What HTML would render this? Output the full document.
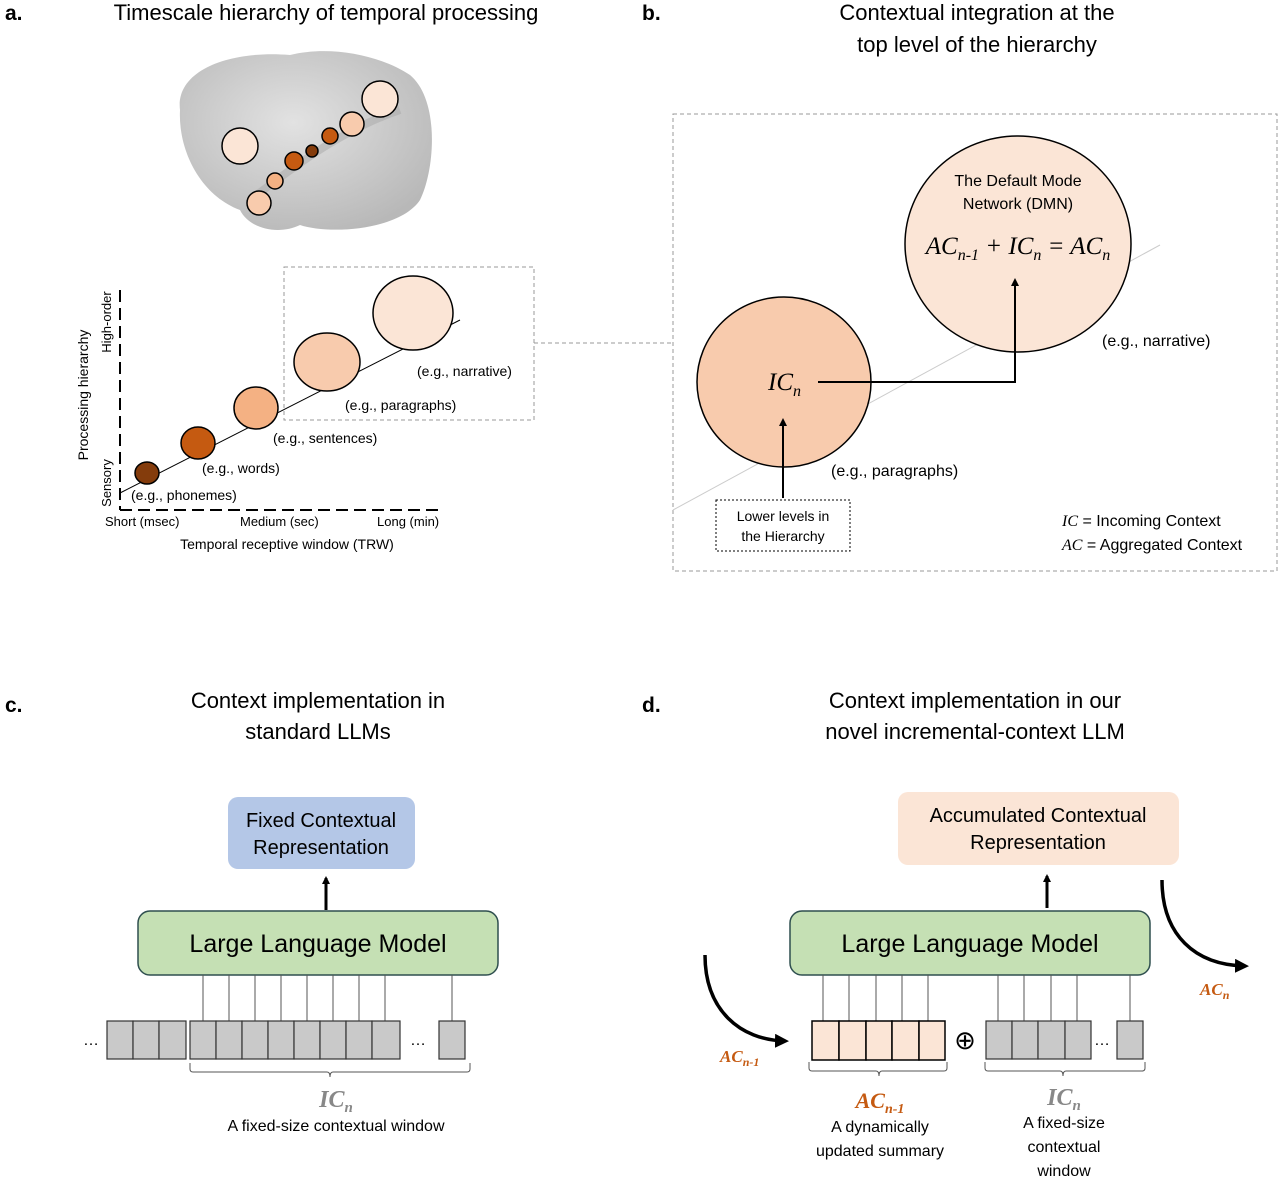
<!DOCTYPE html>
<html><head><meta charset="utf-8"><style>
html,body{margin:0;padding:0;background:#fff}
svg{display:block;font-family:"Liberation Sans",sans-serif}
.it{font-family:"Liberation Serif",serif;font-style:italic}
</style></head><body>
<svg width="1280" height="1179" viewBox="0 0 1280 1179" xmlns="http://www.w3.org/2000/svg">
<defs>
<marker id="ah" markerWidth="8" markerHeight="8" refX="6" refY="4" orient="auto" markerUnits="userSpaceOnUse"><path d="M0,0 L8,4 L0,8 Z" fill="#000"/></marker>
<marker id="ahb" markerWidth="14" markerHeight="14" refX="10" refY="7" orient="auto" markerUnits="userSpaceOnUse"><path d="M0,0 L14,7 L0,14 Z" fill="#000"/></marker>
<radialGradient id="br" cx="45%" cy="40%" r="65%"><stop offset="0" stop-color="#e2e2e2"/><stop offset="1" stop-color="#b8b8b8"/></radialGradient>
</defs>
<!-- Panel a -->
<text x="5" y="20" font-size="21" font-weight="bold">a.</text>
<text x="326" y="20" font-size="22" text-anchor="middle">Timescale hierarchy of temporal processing</text>
<path d="M180,110 C175,70 230,50 290,55 C330,45 380,55 410,75 C440,100 435,170 420,200 C400,230 330,235 300,225 C280,235 250,230 240,210 C200,195 178,150 180,110 Z" fill="url(#br)"/>
<path d="M250,200 C290,170 340,130 400,110" stroke="#a8a8a8" stroke-width="8" fill="none" opacity=".5"/>
<g stroke="#000" stroke-width="1.5">
<circle cx="240" cy="146" r="18" fill="#fbe5d6"/>
<circle cx="380" cy="99" r="18" fill="#fbe5d6"/>
<circle cx="352" cy="124" r="12" fill="#f8cbad"/>
<circle cx="330" cy="136" r="8" fill="#c55a11"/>
<circle cx="312" cy="151" r="6" fill="#843c0c"/>
<circle cx="294" cy="161" r="9" fill="#c55a11"/>
<circle cx="275" cy="181" r="8" fill="#f4b183"/>
<circle cx="259" cy="203" r="12" fill="#f8cbad"/>
</g>
<line x1="120" y1="290" x2="120" y2="510" stroke="#000" stroke-width="2" stroke-dasharray="12,6"/>
<line x1="120" y1="510" x2="440" y2="510" stroke="#000" stroke-width="2" stroke-dasharray="12,6"/>
<line x1="120" y1="493" x2="460" y2="320" stroke="#000" stroke-width="1"/>
<rect x="284" y="267" width="250" height="153" fill="none" stroke="#999" stroke-dasharray="4,3"/>
<line x1="534" y1="343" x2="673" y2="343" stroke="#999" stroke-dasharray="4,3"/>
<g stroke="#000" stroke-width="1.5">
<ellipse cx="147" cy="473" rx="12" ry="11" fill="#843c0c"/>
<ellipse cx="198" cy="443" rx="17" ry="16" fill="#c55a11"/>
<ellipse cx="256" cy="408" rx="22" ry="21" fill="#f4b183"/>
<ellipse cx="327" cy="362" rx="33" ry="29" fill="#f8cbad"/>
<ellipse cx="413" cy="313" rx="40" ry="37" fill="#fbe5d6"/>
</g>
<g font-size="14">
<text x="131" y="500">(e.g., phonemes)</text>
<text x="202" y="473">(e.g., words)</text>
<text x="273" y="443">(e.g., sentences)</text>
<text x="345" y="410">(e.g., paragraphs)</text>
<text x="417" y="376">(e.g., narrative)</text>
<text x="105" y="526" font-size="13">Short (msec)</text>
<text x="240" y="526" font-size="13">Medium (sec)</text>
<text x="377" y="526" font-size="13">Long (min)</text>
<text x="287" y="549" text-anchor="middle">Temporal receptive window (TRW)</text>
<text transform="translate(88,395) rotate(-90)" text-anchor="middle">Processing hierarchy</text>
<text transform="translate(111,322) rotate(-90)" text-anchor="middle" font-size="13">High-order</text>
<text transform="translate(111,483) rotate(-90)" text-anchor="middle" font-size="13">Sensory</text>
</g>
<!-- Panel b -->
<text x="642" y="20" font-size="21" font-weight="bold">b.</text>
<text x="977" y="20" font-size="22" text-anchor="middle">Contextual integration at the</text>
<text x="977" y="52" font-size="22" text-anchor="middle">top level of the hierarchy</text>
<rect x="673" y="114" width="604" height="457" fill="none" stroke="#999" stroke-dasharray="4,3"/>
<line x1="673" y1="510" x2="1160" y2="245" stroke="#ccc" stroke-width="1"/>
<ellipse cx="1018" cy="244" rx="113" ry="108" fill="#fbe5d6" stroke="#000" stroke-width="1.5"/>
<ellipse cx="784" cy="382" rx="87" ry="85" fill="#f8cbad" stroke="#000" stroke-width="1.5"/>
<text x="1018" y="186" font-size="16" text-anchor="middle">The Default Mode</text>
<text x="1018" y="209" font-size="16" text-anchor="middle">Network (DMN)</text>
<text x="1018" y="254" font-size="25" text-anchor="middle" class="it">AC<tspan font-size="16" dy="6">n-1</tspan><tspan dy="-6"> + IC</tspan><tspan font-size="16" dy="6">n</tspan><tspan dy="-6"> = AC</tspan><tspan font-size="16" dy="6">n</tspan></text>
<text x="768" y="390" font-size="25" class="it">IC<tspan font-size="16" dy="6">n</tspan></text>
<path d="M818,382 H1015 V280" fill="none" stroke="#000" stroke-width="2" marker-end="url(#ah)"/>
<path d="M783,498 V420" fill="none" stroke="#000" stroke-width="2" marker-end="url(#ah)"/>
<rect x="716" y="500" width="134" height="51" fill="#fff" stroke="#000" stroke-dasharray="2,2"/>
<text x="783" y="521" font-size="14" text-anchor="middle">Lower levels in</text>
<text x="783" y="541" font-size="14" text-anchor="middle">the Hierarchy</text>
<text x="1102" y="346" font-size="16">(e.g., narrative)</text>
<text x="831" y="476" font-size="16">(e.g., paragraphs)</text>
<text x="1062" y="526" font-size="16"><tspan class="it">IC</tspan> = Incoming Context</text>
<text x="1062" y="550" font-size="16"><tspan class="it">AC</tspan> = Aggregated Context</text>
<!-- Panel c -->
<text x="5" y="712" font-size="21" font-weight="bold">c.</text>
<text x="318" y="708" font-size="22" text-anchor="middle">Context implementation in</text>
<text x="318" y="739" font-size="22" text-anchor="middle">standard LLMs</text>
<rect x="228" y="797" width="187" height="72" rx="10" fill="#b4c7e7"/>
<text x="321" y="827" font-size="20" text-anchor="middle">Fixed Contextual</text>
<text x="321" y="854" font-size="20" text-anchor="middle">Representation</text>
<line x1="326" y1="910" x2="326" y2="878" stroke="#000" stroke-width="3" marker-end="url(#ah)"/>
<rect x="138" y="911" width="360" height="64" rx="12" fill="#c5e0b4" stroke="#2f4f4f" stroke-width="1.5"/>
<text x="318" y="952" font-size="25" text-anchor="middle">Large Language Model</text>
<g stroke="#555" stroke-width="1">
<line x1="203" y1="975" x2="203" y2="1021"/><line x1="229" y1="975" x2="229" y2="1021"/><line x1="255" y1="975" x2="255" y2="1021"/><line x1="281" y1="975" x2="281" y2="1021"/><line x1="307" y1="975" x2="307" y2="1021"/><line x1="333" y1="975" x2="333" y2="1021"/><line x1="359" y1="975" x2="359" y2="1021"/><line x1="385" y1="975" x2="385" y2="1021"/><line x1="452" y1="975" x2="452" y2="1021"/>
</g>
<g fill="#c9c9c9" stroke="#333" stroke-width="1.2">
<rect x="107" y="1021" width="26" height="38"/><rect x="133" y="1021" width="26" height="38"/><rect x="159" y="1021" width="27" height="38"/>
<rect x="190" y="1021" width="26" height="38"/><rect x="216" y="1021" width="26" height="38"/><rect x="242" y="1021" width="26" height="38"/><rect x="268" y="1021" width="26" height="38"/><rect x="294" y="1021" width="26" height="38"/><rect x="320" y="1021" width="26" height="38"/><rect x="346" y="1021" width="26" height="38"/><rect x="372" y="1021" width="28" height="38"/>
<rect x="439" y="1021" width="26" height="38"/>
</g>
<text x="83" y="1045" font-size="16">…</text>
<text x="410" y="1045" font-size="16">…</text>
<path d="M190,1063 v6 q0,3 3,3 H327 q3,0 3,5 q0,-5 3,-5 H467 q3,0 3,-3 v-6" fill="none" stroke="#555"/>
<text x="336" y="1107" font-size="24" fill="#888" font-weight="bold" text-anchor="middle" class="it">IC<tspan font-size="15" dy="5">n</tspan></text>
<text x="336" y="1131" font-size="16" text-anchor="middle">A fixed-size contextual window</text>
<!-- Panel d -->
<text x="642" y="712" font-size="21" font-weight="bold">d.</text>
<text x="975" y="708" font-size="22" text-anchor="middle">Context implementation in our</text>
<text x="975" y="739" font-size="22" text-anchor="middle">novel incremental-context LLM</text>
<rect x="898" y="792" width="281" height="73" rx="10" fill="#fbe5d6"/>
<text x="1038" y="822" font-size="20" text-anchor="middle">Accumulated Contextual</text>
<text x="1038" y="849" font-size="20" text-anchor="middle">Representation</text>
<line x1="1047" y1="908" x2="1047" y2="876" stroke="#000" stroke-width="3" marker-end="url(#ah)"/>
<rect x="790" y="911" width="360" height="64" rx="12" fill="#c5e0b4" stroke="#2f4f4f" stroke-width="1.5"/>
<text x="970" y="952" font-size="25" text-anchor="middle">Large Language Model</text>
<g stroke="#555" stroke-width="1">
<line x1="823" y1="975" x2="823" y2="1021"/><line x1="849" y1="975" x2="849" y2="1021"/><line x1="876" y1="975" x2="876" y2="1021"/><line x1="902" y1="975" x2="902" y2="1021"/><line x1="928" y1="975" x2="928" y2="1021"/>
<line x1="998" y1="975" x2="998" y2="1021"/><line x1="1024" y1="975" x2="1024" y2="1021"/><line x1="1051" y1="975" x2="1051" y2="1021"/><line x1="1077" y1="975" x2="1077" y2="1021"/><line x1="1130" y1="975" x2="1130" y2="1021"/>
</g>
<g fill="#fbe5d6" stroke="#000" stroke-width="1.5">
<rect x="812" y="1021" width="27" height="39"/><rect x="839" y="1021" width="27" height="39"/><rect x="866" y="1021" width="26" height="39"/><rect x="892" y="1021" width="27" height="39"/><rect x="919" y="1021" width="26" height="39"/>
</g>
<g fill="#c9c9c9" stroke="#333" stroke-width="1.2">
<rect x="986" y="1021" width="26" height="38"/><rect x="1012" y="1021" width="26" height="38"/><rect x="1038" y="1021" width="27" height="38"/><rect x="1065" y="1021" width="26" height="38"/><rect x="1117" y="1021" width="26" height="38"/>
</g>
<text x="965" y="1049" font-size="26" text-anchor="middle">⊕</text>
<text x="1094" y="1045" font-size="16">…</text>
<path d="M809,1062 v6 q0,3 3,3 H876 q3,0 3,5 q0,-5 3,-5 H944 q3,0 3,-3 v-6" fill="none" stroke="#555"/>
<path d="M985,1062 v6 q0,3 3,3 H1060 q3,0 3,5 q0,-5 3,-5 H1142 q3,0 3,-3 v-6" fill="none" stroke="#555"/>
<text x="880" y="1108" font-size="22" fill="#c55a11" font-weight="bold" text-anchor="middle" class="it">AC<tspan font-size="14" dy="5">n-1</tspan></text>
<text x="880" y="1132" font-size="16" text-anchor="middle">A dynamically</text>
<text x="880" y="1156" font-size="16" text-anchor="middle">updated summary</text>
<text x="1064" y="1105" font-size="24" fill="#888" font-weight="bold" text-anchor="middle" class="it">IC<tspan font-size="15" dy="5">n</tspan></text>
<text x="1064" y="1128" font-size="16" text-anchor="middle">A fixed-size</text>
<text x="1064" y="1152" font-size="16" text-anchor="middle">contextual</text>
<text x="1064" y="1176" font-size="16" text-anchor="middle">window</text>
<path d="M705,955 C705,1010 740,1040 785,1041" fill="none" stroke="#000" stroke-width="3.5" marker-end="url(#ahb)"/>
<text x="720" y="1062" font-size="17" fill="#c55a11" font-weight="bold" class="it">AC<tspan font-size="12" dy="4">n-1</tspan></text>
<path d="M1162,880 C1162,935 1195,965 1245,966" fill="none" stroke="#000" stroke-width="3.5" marker-end="url(#ahb)"/>
<text x="1200" y="995" font-size="17" fill="#c55a11" font-weight="bold" class="it">AC<tspan font-size="12" dy="4">n</tspan></text>
</svg>
</body></html>
